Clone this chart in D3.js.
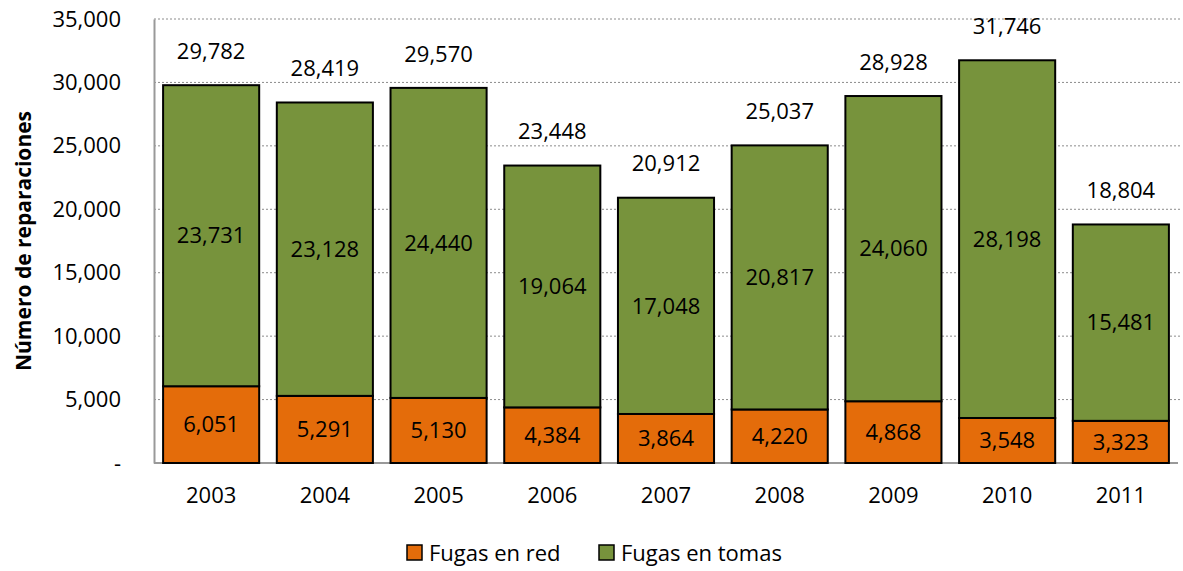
<!DOCTYPE html>
<html>
<head>
<meta charset="utf-8">
<script src="https://cdn.jsdelivr.net/npm/d3@7"></script>
<style>
  body { margin: 0; background: #fff; }
  svg text { font-family: "Open Sans", "Noto Sans", sans-serif; }
</style>
</head>
<body>
<svg width="1183" height="571"></svg>
<script>
const years = ["2003", "2004", "2005", "2006", "2007", "2008", "2009", "2010", "2011"];
const fugas_red = [6051, 5291, 5130, 4384, 3864, 4220, 4868, 3548, 3323];
const fugas_tomas = [23731, 23128, 24440, 19064, 17048, 20817, 24060, 28198, 15481];
const totals = [29782, 28419, 29570, 23448, 20912, 25037, 28928, 31746, 18804];
const y_ticks = [0, 5000, 10000, 15000, 20000, 25000, 30000, 35000];
const series_names = ["Fugas en red", "Fugas en tomas"];
const colors = ["#E46C0A", "#77933C"];

const margin = { left: 154, right: 5, top: 19, bottom: 108 },
  width = 1183,
  height = 571;

const svg = d3.select("svg");
const fmt = d3.format(",");
const font_size = "22px";

const x_scale = d3.scaleBand()
  .domain(years)
  .range([margin.left, width - margin.right])
  .paddingInner(0.155)
  .paddingOuter(0.08);

const y_scale = d3.scaleLinear()
  .domain([0, 35000])
  .range([height - margin.bottom, margin.top]);

// gridlines
svg.append("g")
  .selectAll("line")
  .data(y_ticks.filter(d => d > 0))
  .join("line")
  .attr("x1", margin.left)
  .attr("x2", width - 3)
  .attr("y1", d => y_scale(d))
  .attr("y2", d => y_scale(d))
  .attr("stroke", "#8c8c8c")
  .attr("stroke-width", 1)
  .attr("stroke-dasharray", "2,2");

// y axis
const y_axis = d3.axisLeft(y_scale)
  .tickValues(y_ticks)
  .tickSize(0)
  .tickPadding(33)
  .tickFormat(d => d === 0 ? "-" : fmt(d));

const gy = svg.append("g")
  .attr("transform", `translate(${margin.left},0)`)
  .call(y_axis);
gy.select(".domain").attr("stroke", "#999").attr("stroke-width", 2);
gy.selectAll("text").style("font-size", font_size).attr("fill", "#000");

// x axis
const x_axis = d3.axisBottom(x_scale).tickSize(0).tickPadding(24);
const gx = svg.append("g")
  .attr("transform", `translate(0,${y_scale(0)})`)
  .call(x_axis);
gx.select(".domain").attr("stroke", "#999").attr("stroke-width", 2)
  .attr("d", `M${margin.left},0H${width - margin.right}`);
gx.selectAll("text").style("font-size", font_size).attr("fill", "#000");

// stacked data
const rows = years.map((y, i) => ({ year: y, red: fugas_red[i], tomas: fugas_tomas[i], total: totals[i] }));
const stack = d3.stack().keys(["red", "tomas"])(rows);

const layers = svg.append("g")
  .selectAll("g")
  .data(stack)
  .join("g")
  .attr("fill", (d, i) => colors[i]);

layers.selectAll("rect")
  .data(d => d)
  .join("rect")
  .attr("x", d => x_scale(d.data.year))
  .attr("width", x_scale.bandwidth())
  .attr("y", d => y_scale(d[1]))
  .attr("height", d => y_scale(d[0]) - y_scale(d[1]))
  .attr("stroke", "#000")
  .attr("stroke-width", 2);

// segment labels
layers.selectAll("text")
  .data(d => d.map(p => ({ p, key: d.key })))
  .join("text")
  .attr("x", d => x_scale(d.p.data.year) + x_scale.bandwidth() / 2)
  .attr("y", d => (y_scale(d.p[0]) + y_scale(d.p[1])) / 2)
  .attr("dy", "0.35em")
  .attr("text-anchor", "middle")
  .attr("fill", "#000")
  .style("font-size", font_size)
  .text(d => fmt(d.p.data[d.key]));

// totals
svg.append("g")
  .selectAll("text")
  .data(rows)
  .join("text")
  .attr("x", d => x_scale(d.year) + x_scale.bandwidth() / 2)
  .attr("y", d => y_scale(d.total) - 34)
  .attr("dy", "0.35em")
  .attr("text-anchor", "middle")
  .style("font-size", font_size)
  .text(d => fmt(d.total));

// y title
svg.append("text")
  .attr("transform", `translate(24, ${y_scale(17500)}) rotate(-90)`)
  .attr("text-anchor", "middle")
  .attr("dy", "0.35em")
  .style("font-size", "21px")
  .style("font-weight", "bold")
  .text("Número de reparaciones");

// legend
const legend_x = [407, 599];
const legend = svg.append("g")
  .selectAll("g")
  .data(series_names)
  .join("g")
  .attr("transform", (d, i) => `translate(${legend_x[i]}, 553)`);
legend.append("rect")
  .attr("x", 0).attr("y", -8)
  .attr("width", 15).attr("height", 15)
  .attr("fill", (d, i) => colors[i])
  .attr("stroke", "#000").attr("stroke-width", 1.5);
legend.append("text")
  .attr("x", 22)
  .attr("dy", "0.35em")
  .style("font-size", font_size)
  .text(d => d);
</script>
</body>
</html>
